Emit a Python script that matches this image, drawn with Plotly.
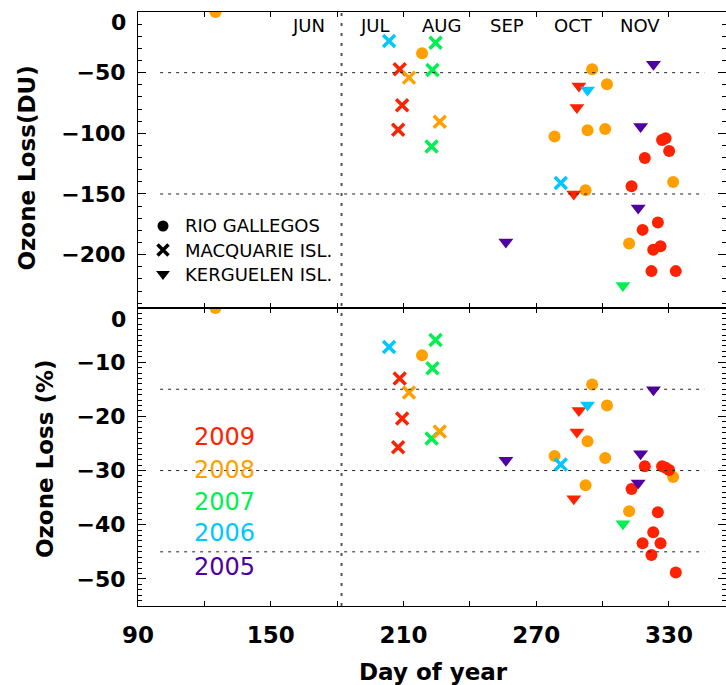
import plotly.graph_objects as go

# ---------------- data ----------------
year_colors = {2009: "#FF2200", 2008: "#FFA000", 2007: "#00F050", 2006: "#00C8FF", 2005: "#5000A0"}
year_labels = ["2009", "2008", "2007", "2006", "2005"]

# Rio Gallegos (circles)
rg_year = [2008, 2008, 2008, 2008, 2008, 2008, 2008, 2008, 2008, 2008,
           2009, 2009, 2009, 2009, 2009, 2009, 2009, 2009, 2009, 2009, 2009]
rg_day = [125, 218.4, 295.3, 302, 278.3, 293.2, 301.2, 292.3, 331.9, 312,
          326.9, 328.5, 330.1, 319.1, 313.1, 325, 318.1, 326.2, 322.9, 322.1, 333.1]
rg_du = [0, -34, -47.2, -59.5, -102.6, -97.4, -96.5, -147, -140.1, -190.9,
         -105.6, -104, -114.6, -120.4, -143.7, -173.6, -179.6, -193.1, -196, -213.6, -213.6]
rg_pct = [0, -8.7, -14.1, -18, -27.3, -24.6, -27.7, -32.7, -31.2, -37.5,
          -29.2, -29.5, -29.9, -29.2, -33.4, -37.7, -43.4, -43.4, -41.4, -45.6, -48.8]

# Macquarie Isl. (crosses)
mq_year = [2006, 2006, 2007, 2007, 2007, 2009, 2009, 2009, 2008, 2008]
mq_day = [203.5, 281.1, 224.5, 223.1, 222.7, 208.3, 209.4, 207.6, 212.5, 226.4]
mq_du = [-23.9, -141, -25.3, -47.8, -110.9, -47.2, -76.8, -97.1, -54.1, -90.5]
mq_pct = [-7.2, -28.9, -5.9, -11.1, -24.1, -13, -20.4, -25.7, -15.6, -22.8]

# Kerguelen Isl. (down triangles)
kg_year = [2005, 2005, 2005, 2005, 2009, 2009, 2009, 2006, 2007]
kg_day = [323, 317.2, 316.1, 256.3, 289.3, 288.4, 287, 293.2, 309.2]
kg_du = [-43, -94.4, -161.5, -189.5, -61, -78.8, -150, -64.2, -225.4]
kg_pct = [-15.1, -26.9, -32.3, -28.1, -18.9, -22.9, -35.2, -17.9, -39.8]

stations = ["RIO GALLEGOS", "MACQUARIE ISL.", "KERGUELEN ISL."]
months = ["JUN", "JUL", "AUG", "SEP", "OCT", "NOV"]
month_days = [167, 197, 227, 257, 287, 317]
x_tickvals = [90, 120, 150, 180, 210, 240, 270, 300, 330]
x_ticktext = ["90", "", "150", "", "210", "", "270", "", "330"]
du_tickvals = [-200, -150, -100, -50, 0]
du_ticktext = ["\u2212200", "\u2212150", "\u2212100", "\u221250", ""]
pct_tickvals = [-50, -40, -30, -20, -10, 0]
pct_ticktext = ["\u221250", "\u221240", "\u221230", "\u221220", "\u221210", ""]
du_ref = [-50, -150]
pct_ref = [-15, -30, -45]
jul1 = 182

# ---------------- layout constants ----------------
W, H = 726, 685
ML, MR, MT, MB = 138, 0, 12, 79
split = 298 / 594.0
XR = [90, 355.8]

symbols = {"RIO GALLEGOS": ("circle", 12, 0), "MACQUARIE ISL.": ("x-thin", 12, 3.5),
           "KERGUELEN ISL.": ("triangle-down", 13, 0)}
series = [("RIO GALLEGOS", rg_day, rg_du, rg_pct, rg_year),
          ("MACQUARIE ISL.", mq_day, mq_du, mq_pct, mq_year),
          ("KERGUELEN ISL.", kg_day, kg_du, kg_pct, kg_year)]

fig = go.Figure()
for name, d, du, pc, yr in series:
    sym, sz, lw = symbols[name]
    cols = [year_colors[y] for y in yr]
    mk = dict(symbol=sym, size=sz, color=cols, line=dict(width=lw, color=cols))
    fig.add_trace(go.Scatter(x=d, y=du, mode="markers", marker=mk, xaxis="x2", yaxis="y",
                             showlegend=False, hoverinfo="skip"))
    fig.add_trace(go.Scatter(x=d, y=pc, mode="markers", marker=mk, xaxis="x", yaxis="y2",
                             showlegend=False, hoverinfo="skip"))

# legend keys (station symbols, black)
key_day = [101.3, 101.3, 101.3]
key_du = [-176.4, -196.2, -216.0]
for i, name in enumerate(stations):
    sym, sz, lw = symbols[name]
    fig.add_trace(go.Scatter(x=[key_day[i]], y=[key_du[i]], mode="markers", xaxis="x2", yaxis="y",
                             marker=dict(symbol=sym, size=sz - 1, color="black",
                                         line=dict(width=lw, color="black")),
                             showlegend=False, hoverinfo="skip"))

tickfont = dict(family="DejaVu Sans", size=22, color="black", weight="bold")
ax_common = dict(showline=True, linecolor="black", linewidth=1, mirror="ticks", ticks="inside",
                 tickcolor="black", tickwidth=1, showgrid=False, zeroline=False)

fig.update_layout(
    width=W, height=H, margin=dict(l=ML, r=MR, t=MT, b=MB),
    paper_bgcolor="white", plot_bgcolor="white", showlegend=False, hovermode=False,
    xaxis=dict(**ax_common, domain=[0, 1], anchor="y2", range=XR, tickvals=x_tickvals,
               ticktext=x_ticktext, ticklen=5, tickfont=dict(family="DejaVu Sans", size=23,
                                                             color="black", weight="bold"),
               ticklabelstandoff=8),
    xaxis2=dict(**ax_common, domain=[0, 1], anchor="y", matches="x", range=XR,
                tickvals=x_tickvals, ticklen=5, showticklabels=False),
    yaxis=dict(**ax_common, domain=[split, 1], anchor="x2", range=[-244, 0],
               tickvals=du_tickvals, ticktext=du_ticktext,
               ticklen=8, tickfont=tickfont, ticklabelstandoff=7,
               minor=dict(tick0=0, dtick=10, ticklen=4, ticks="inside", tickcolor="black", showgrid=False)),
    yaxis2=dict(**ax_common, domain=[0, split], anchor="x", range=[-55, 0],
                tickvals=pct_tickvals, ticktext=pct_ticktext,
                ticklen=8, tickfont=tickfont, ticklabelstandoff=7,
                minor=dict(tick0=0, dtick=1, ticklen=4, ticks="inside", tickcolor="black", showgrid=False)),
)

shapes = []
for v in du_ref:
    shapes.append(dict(type="line", xref="x2", yref="y", x0=100, x1=346, y0=v, y1=v,
                       line=dict(color="#222", width=1, dash="3px,5px")))
for v in pct_ref:
    shapes.append(dict(type="line", xref="x", yref="y2", x0=100, x1=346, y0=v, y1=v,
                       line=dict(color="#222", width=1, dash="3px,5px")))
shapes.append(dict(type="line", xref="x", yref="paper", x0=jul1, x1=jul1, y0=0, y1=1,
                   line=dict(color="#555", width=2, dash="3px,7px")))
fig.update_layout(shapes=shapes)

ann = []
lab_font = dict(family="DejaVu Sans", size=18, color="black")
for m, d in zip(months, month_days):
    ann.append(dict(text=m, x=d, y=-11, xref="x2", yref="y", showarrow=False,
                    xanchor="center", yanchor="middle", font=lab_font))
for name, y in zip(stations, key_du):
    ann.append(dict(text=name, x=110.3, y=y, xref="x2", yref="y", showarrow=False,
                    xanchor="left", yanchor="middle", font=lab_font))
year_y = [-23.8, -29.9, -35.8, -41.5, -47.8]
for lab, y in zip(year_labels, year_y):
    ann.append(dict(text=lab, x=128.9, y=y, xref="x", yref="y2", showarrow=False,
                    xanchor="center", yanchor="middle",
                    font=dict(family="DejaVu Sans", size=24, color=year_colors[int(lab)])))
# top-of-axis "0" labels (drawn slightly below the axis top, as in the original)
for yp in [0.983, 0.4815]:
    ann.append(dict(text="0", x=-0.017, y=yp, xref="paper", yref="paper", showarrow=False,
                    xanchor="right", yanchor="middle", font=tickfont))
title_font = dict(family="DejaVu Sans", size=23, color="black", weight="bold")
ann.append(dict(text="Ozone Loss(DU)", x=-0.1888, y=0.738, xref="paper", yref="paper",
                textangle=-90, showarrow=False, xanchor="center", yanchor="middle", font=title_font))
ann.append(dict(text="Ozone Loss (%)", x=-0.158, y=0.2475, xref="paper", yref="paper",
                textangle=-90, showarrow=False, xanchor="center", yanchor="middle", font=title_font))
ann.append(dict(text="Day of year", x=0.503, y=-0.111, xref="paper", yref="paper",
                showarrow=False, xanchor="center", yanchor="middle", font=title_font))
fig.update_layout(annotations=ann)

fig.write_html("out.html")
